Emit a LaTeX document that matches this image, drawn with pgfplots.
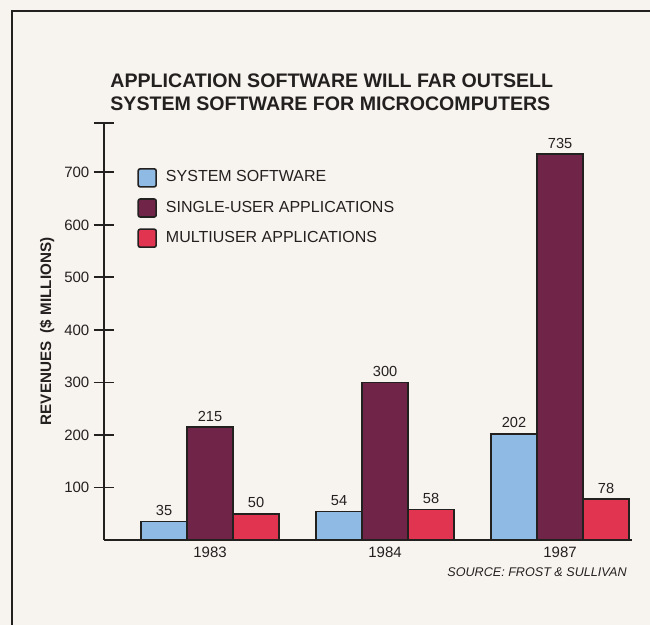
\documentclass[border=0pt]{standalone}
\usepackage{pgfplots}
\pgfplotsset{compat=1.18}
\usepackage{fontspec}
\setmainfont{Liberation Sans}
\definecolor{sysblue}{RGB}{142,186,228}
\definecolor{single}{RGB}{112,36,72}
\definecolor{multi}{RGB}{224,52,80}
\definecolor{paper}{RGB}{247,244,240}
\definecolor{ink}{RGB}{35,32,32}
\begin{document}
\begin{tikzpicture}[x=1pt,y=1pt]
\fill[paper] (-52,-42.5) rectangle (273,270);
\begin{axis}[
  at={(0,0)}, anchor=south west,
  scale only axis, width=264pt, height=208.5pt,
  xmin=-0.606, xmax=2.411, ymin=0, ymax=794,
  axis x line*=bottom, axis y line*=left,
  axis line style={ink, line width=1pt, -},
  ybar=0pt, bar width=0.263,
  xtick={0,1,2}, xticklabels={1983,1984,1987},
  x tick style={draw=none},
  xticklabel style={yshift=5pt},
  ytick={100,200,300,400,500,600,700},
  extra y ticks={794}, extra y tick labels={},
  y tick style={ink, line width=0.9pt},
  extra y tick style={y tick style={ink, line width=0.9pt}},
  tick align=center, major tick length=10pt,
  tick label style={font=\fontsize{7.5}{9}\selectfont, text=ink},
  /pgf/number format/assume math mode=true,
  yticklabel style={xshift=1.2pt},
  nodes near coords,
  nodes near coords style={font=\fontsize{7.3}{9}\selectfont, text=ink, inner sep=2.5pt},
  ylabel={REVENUES\ \ (\$ MILLIONS)},
  every axis y label/.style={at={(axis description cs:-0.108,0.5)}, rotate=90, anchor=center, font=\bfseries\fontsize{7.6}{9}\selectfont, text=ink},
  legend style={at={(axis description cs:0.0625,0.896)}, anchor=north west, draw=none, fill=none,
    font=\fontsize{8}{9.6}\selectfont, text=ink, row sep=4pt, inner sep=0pt,
    /tikz/every odd column/.append style={column sep=2.5pt}},
  legend cell align=left,
  legend image code/.code={\draw[#1, rounded corners=1pt] (0pt,-4.5pt) rectangle (9pt,4.5pt);},
]
\addplot[fill=sysblue, draw=ink, line width=0.8pt] coordinates {(0,35) (1,54) (2,202)};
\addplot[fill=single, draw=ink, line width=0.8pt] coordinates {(0,215) (1,300) (2,735)};
\addplot[fill=multi, draw=ink, line width=0.8pt] coordinates {(0,50) (1,58) (2,78)};
\legend{SYSTEM SOFTWARE, SINGLE-USER APPLICATIONS, MULTIUSER APPLICATIONS}
\end{axis}
\node[anchor=base west, inner sep=0pt, font=\bfseries\fontsize{9.8}{12}\selectfont, text=ink] at (3,226) {APPLICATION SOFTWARE WILL FAR OUTSELL};
\node[anchor=base west, inner sep=0pt, font=\bfseries\fontsize{9.8}{12}\selectfont, text=ink] at (3,214.5) {SYSTEM SOFTWARE FOR MICROCOMPUTERS};
\node[anchor=base east, inner sep=0pt, font=\itshape\fontsize{6.3}{8}\selectfont, text=ink] at (261.5,-18.5) {SOURCE: FROST \& SULLIVAN};
\draw[ink, line width=1pt] (-46,-42.5) -- (-46,264.5) -- (273,264.5);
\pgfresetboundingbox
\useasboundingbox (-52,-42.5) rectangle (273,270);
\end{tikzpicture}
\end{document}
